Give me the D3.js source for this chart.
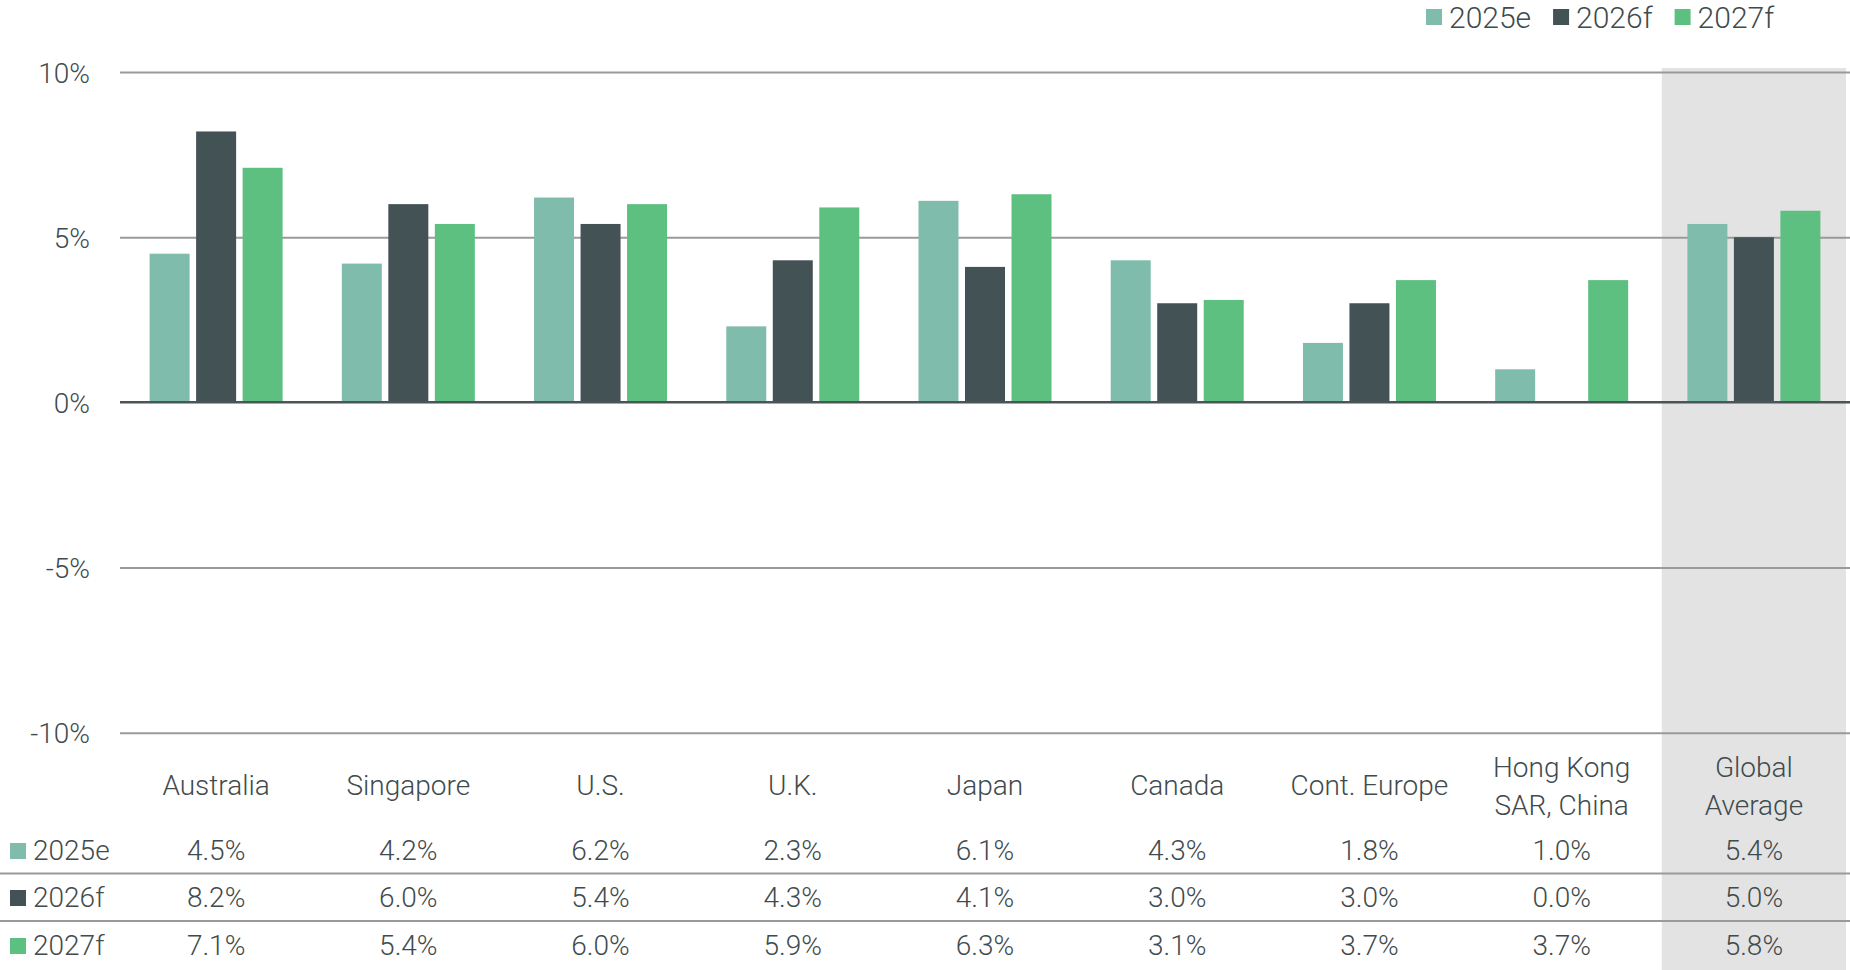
<!DOCTYPE html>
<html>
<head>
<meta charset="utf-8">
<script src="https://cdn.jsdelivr.net/npm/d3@7"></script>
<style>
  html, body { margin: 0; padding: 0; background: #fff; }
  svg { display: block; font-family: Roboto, "Open Sans", sans-serif; font-weight: 300; }
</style>
</head>
<body>
<div id="chart"></div>
<script>
// данные
const categories = ['Australia', 'Singapore', 'U.S.', 'U.K.', 'Japan', 'Canada', 'Cont. Europe', 'Hong Kong\nSAR, China', 'Global\nAverage'];
const series = ['2025e', '2026f', '2027f'];
const values2025e = [4.5, 4.2, 6.2, 2.3, 6.1, 4.3, 1.8, 1.0, 5.4];
const values2026f = [8.2, 6.0, 5.4, 4.3, 4.1, 3.0, 3.0, 0.0, 5.0];
const values2027f = [7.1, 5.4, 6.0, 5.9, 6.3, 3.1, 3.7, 3.7, 5.8];
const yTicks = [-10, -5, 0, 5, 10];

const seriesValues = [values2025e, values2026f, values2027f];
const colors = { '2025e': '#80bcac', '2026f': '#435254', '2027f': '#5dbf80' };
const textColor = '#3f4b4d';

const width = 1850;
const height = 970;
const margin = { top: 72, right: 0, left: 120 };
const plotBottom = 732.7;

const svg = d3.select('#chart')
    .append('svg')
    .attr('width', width)
    .attr('height', height);

// шкалы
const x = d3.scaleBand()
    .domain(categories)
    .range([margin.left, width - margin.right])
    .padding(0);

const x1 = d3.scaleBand()
    .domain(series)
    .range([0, 133])
    .paddingInner(0.14);

const y = d3.scaleLinear()
    .domain([-10, 10])
    .range([plotBottom, margin.top]);

const groupOffset = (x.bandwidth() - 133) / 2;

// серая подложка для глобального среднего
const last = categories[categories.length - 1];
svg.append('rect')
    .attr('x', x(last) + 4)
    .attr('y', y(10) - 4)
    .attr('width', x.bandwidth() - 8)
    .attr('height', height - y(10) + 4)
    .attr('fill', '#e3e3e3');

// ось Y с сеткой
svg.append('g')
    .attr('transform', `translate(${margin.left},0)`)
    .call(d3.axisLeft(y)
        .tickValues(yTicks)
        .tickSize(-(width - margin.left))
        .tickPadding(30)
        .tickFormat(d => d + '%'))
    .attr('font-family', null)
    .attr('font-size', null)
    .call(g => g.select('.domain').remove())
    .call(g => g.selectAll('.tick line')
        .attr('stroke', d => d === 0 ? 'none' : '#9a9a9a')
        .attr('stroke-width', 2))
    .call(g => g.selectAll('text')
        .attr('fill', textColor)
        .style('font-size', '28px')
        .attr('dy', '0.36em'));

// столбцы
const rows = categories.map((c, i) => ({ cat: c, vals: series.map((s, j) => ({ key: s, value: seriesValues[j][i] })) }));

const groups = svg.append('g')
    .selectAll('g')
    .data(rows)
    .join('g')
    .attr('transform', d => `translate(${x(d.cat) + groupOffset},0)`);

groups.selectAll('rect')
    .data(d => d.vals)
    .join('rect')
    .attr('x', d => x1(d.key))
    .attr('width', x1.bandwidth())
    .attr('y', d => y(Math.max(0, d.value)))
    .attr('height', d => Math.abs(y(d.value) - y(0)))
    .attr('fill', d => colors[d.key]);

// нулевая линия
svg.append('line')
    .attr('x1', margin.left)
    .attr('x2', width)
    .attr('y1', y(0))
    .attr('y2', y(0))
    .attr('stroke', '#4b5557')
    .attr('stroke-width', 2.5);

// подписи категорий
const catLabels = svg.append('g')
    .selectAll('text')
    .data(categories)
    .join('text')
    .attr('x', d => x(d) + x.bandwidth() / 2)
    .attr('text-anchor', 'middle')
    .attr('fill', textColor)
    .style('font-size', '28px');

catLabels.each(function (d) {
    const lines = d.split('\n');
    const base = lines.length === 1 ? 795 : 777;
    d3.select(this).selectAll('tspan')
        .data(lines)
        .join('tspan')
        .attr('x', x(d) + x.bandwidth() / 2)
        .attr('y', (_, i) => base + i * 38)
        .text(t => t);
});

// таблица значений
const rowBase = [860, 907, 955];
const rowSep = [873.5, 921];

svg.selectAll('.row-sep')
    .data(rowSep)
    .join('line')
    .attr('class', 'row-sep')
    .attr('x1', 0)
    .attr('x2', width)
    .attr('y1', d => d)
    .attr('y2', d => d)
    .attr('stroke', '#9a9a9a')
    .attr('stroke-width', 2);

series.forEach((s, j) => {
    const row = svg.append('g');

    row.append('rect')
        .attr('x', 10)
        .attr('y', rowBase[j] - 17)
        .attr('width', 16)
        .attr('height', 16)
        .attr('fill', colors[s]);

    row.append('text')
        .attr('x', 33)
        .attr('y', rowBase[j])
        .attr('fill', textColor)
        .style('font-size', '28px')
        .text(s);

    row.selectAll('.val')
        .data(seriesValues[j])
        .join('text')
        .attr('class', 'val')
        .attr('x', (_, i) => x(categories[i]) + x.bandwidth() / 2)
        .attr('y', rowBase[j])
        .attr('text-anchor', 'middle')
        .attr('fill', textColor)
        .style('font-size', '28px')
        .text(d => d3.format('.1f')(d) + '%');
});

// легенда
const legend = svg.append('g').attr('transform', 'translate(1426, 0)');
let lx = 0;
series.forEach(s => {
    legend.append('rect')
        .attr('x', lx)
        .attr('y', 9)
        .attr('width', 16)
        .attr('height', 16)
        .attr('fill', colors[s]);
    const t = legend.append('text')
        .attr('x', lx + 23)
        .attr('y', 28)
        .attr('fill', textColor)
        .style('font-size', '30px')
        .text(s);
    lx += 23 + t.node().getComputedTextLength() + 22;
});
</script>
</body>
</html>
